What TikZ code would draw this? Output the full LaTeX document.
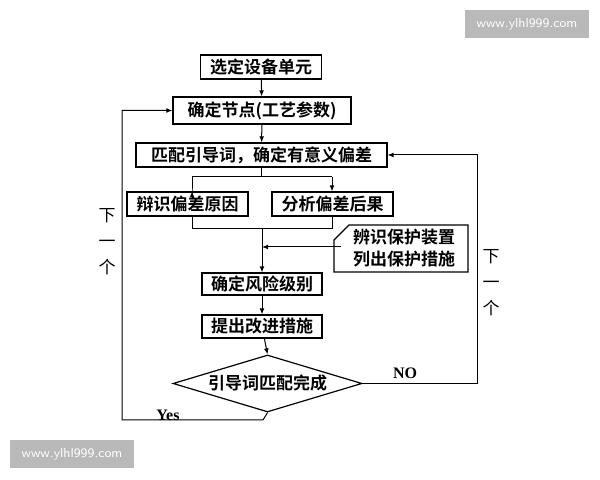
\documentclass[tikz,border=0pt]{standalone}
\usepackage{fontspec}
\setmainfont{Liberation Serif}
\newfontfamily\cjk{Noto Sans CJK SC}[BoldFont={* Bold}]
\usetikzlibrary{shapes.geometric,arrows.meta}
\begin{document}
\begin{tikzpicture}[x=0.5pt,y=-0.5pt,
  box/.style={draw,line width=0.6pt,inner sep=0pt,font=\cjk\bfseries\fontsize{8.5}{9}\selectfont},
  con/.style={line width=0.5pt},
  arr/.style={con,-{Latex[length=3pt,width=2.4pt]}},
  lab/.style={font=\cjk\bfseries\fontsize{8.5}{10}\selectfont,align=center,inner sep=0pt},
  wm/.style={fill=gray!55,text=white,inner sep=0pt,font=\sffamily\fontsize{6.5}{7}\selectfont}]
\useasboundingbox (0,0) rectangle (600,480);
\node[wm,minimum width=62pt,minimum height=14pt] (w1) at (527,24) {www.ylhl999.com};
\node[wm,minimum width=62pt,minimum height=14pt] (w2) at (72,454) {www.ylhl999.com};
\node[box,minimum width=60.5pt,minimum height=12pt] (b1) at (261,67) {选定设备单元};
\node[box,minimum width=89pt,minimum height=13.5pt] (b2) at (262,110.5) {确定节点(工艺参数)};
\node[box,minimum width=125.5pt,minimum height=12pt] (b3) at (261.5,155) {匹配引导词，确定有意义偏差};
\node[box,minimum width=60.5pt,minimum height=12pt] (b4) at (187.5,204) {辩识偏差原因};
\node[box,minimum width=60.5pt,minimum height=12pt] (b5) at (332.5,204) {分析偏差后果};
\node[box,minimum width=60pt,minimum height=11pt] (b6) at (262,284) {确定风险级别};
\node[box,minimum width=60pt,minimum height=11.5pt] (b7) at (262,326.5) {提出改进措施};
\node[draw,line width=0.6pt,diamond,aspect=3.3,minimum width=94.5pt,minimum height=28.5pt,inner sep=0pt] (d) at (267.5,383.5) {};
\node[lab] at (d) {引导词匹配完成};
\draw[line width=0.6pt] (349,225) -- (468,225) -- (468,272) -- (334,272) -- (334,240) -- cycle;
\node[lab,font=\cjk\bfseries\fontsize{8.5}{11}\selectfont] (side) at (404,248) {辨识保护装置\\列出保护措施};
\coordinate (s) at (341,247);
\draw[arr] (b1) -- (b2);
\draw[arr] (b2) -- (b3);
\draw[con] (b3.south) -- (261.5,177) coordinate (j);
\draw[arr] (192,177) -- (192,198) |- (b4.north -| 192,0);
\draw[con] (192,177) -- (332,177);
\draw[arr] (332,177) -- (b5.north -| 332,0);
\draw[con] (b4.south -| 192,0) -- (192,229) -- (332,229) -- (b5.south -| 332,0);
\draw[arr] (262,229) -- (b6);
\draw[arr] (s) -- (262,247);
\draw[arr] (b6) -- (b7);
\draw[arr] (b7) -- (d.north);
\draw[arr] (d.east) -- (477,383.5) -- (477,155) -- (b3.east);
\draw[arr] (d.south) -- (263,420) -- (122,420) -- (122,110.5) -- (b2.west);
\node[font=\bfseries\fontsize{8}{9}\selectfont] (no) at (405,373) {NO};
\node[font=\bfseries\fontsize{8}{9}\selectfont] (yes) at (168,415) {Yes};
\node[lab,font=\cjk\fontsize{8.5}{13}\selectfont] (n1) at (491,283) {下\\一\\个};
\node[lab,font=\cjk\fontsize{8.5}{13}\selectfont] (n2) at (107,242) {下\\一\\个};
\end{tikzpicture}
\end{document}
